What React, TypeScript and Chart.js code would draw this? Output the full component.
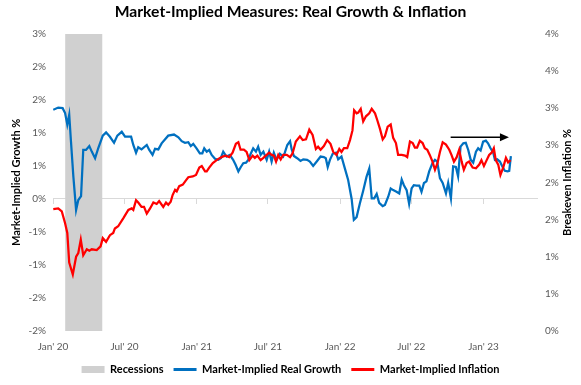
import React, { useEffect, useRef } from 'react';
import { Chart, registerables } from 'chart.js';
Chart.register(...registerables);

const TITLE = 'Market-Implied Measures: Real Growth & Inflation';
const FONT = 'Lato';

// x axis: weeks since 1 Jan 2020
const xTickWeeks = [0, 26, 52.29, 78.14, 104.43, 130.29, 156.57];
const xTickLabels = ["Jan' 20", "Jul' 20", "Jan' 21", "Jul' 21", "Jan' 22", "Jul' 22", "Jan' 23"];
const growthTicks = [-2.4, -1.8, -1.2, -0.6, 0, 0.6, 1.2, 1.8, 2.4, 3.0];
const inflationTicks = [0, 0.5, 1, 1.5, 2, 2.5, 3, 3.5, 4];

const recessionWeeks = [4.4, 18.0];
const arrowWeeks = [144.6, 165.8];
const arrowLevel = 1.12;

const growthWeeks = [
  0.1, 1.9, 3.5, 4.4, 5.2, 5.9, 6.5, 7.4, 8.4, 9.2,
  10.2, 11.0, 12.0, 13.2, 14.1, 15.3, 16.5, 18.1, 19.3, 20.7,
  22.2, 23.4, 25.0, 26.2, 28.4, 29.2, 30.2, 31.0, 32.2, 34.1,
  35.0, 36.2, 37.1, 38.3, 39.5, 41.9, 44.0, 45.6, 46.8, 48.0,
  49.2, 50.1, 51.0, 52.2, 53.4, 54.3, 55.0, 55.9, 56.8, 57.7,
  58.9, 60.1, 61.0, 61.9, 63.1, 64.3, 65.5, 66.4, 67.4, 68.3,
  69.2, 70.2, 71.0, 71.9, 72.8, 73.8, 74.6, 75.5, 76.5, 77.7,
  78.6, 79.5, 80.3, 81.3, 82.5, 83.7, 84.3, 85.2, 86.2, 86.8,
  87.6, 88.8, 90.0, 91.0, 92.4, 93.4, 94.6, 95.9, 97.3, 98.5,
  99.2, 99.9, 100.7, 101.7, 102.9, 103.7, 104.9, 106.1, 107.3, 108.6,
  109.4, 110.4, 111.6, 112.8, 114.0, 115.0, 115.9, 116.8, 117.7, 118.6,
  119.9, 120.7, 121.9, 122.8, 123.7, 124.9, 125.9, 126.8, 127.6, 128.6,
  129.5, 130.4, 131.2, 132.2, 133.2, 134.0, 134.9, 135.8, 136.8, 138.0,
  138.9, 139.7, 140.7, 141.7, 142.9, 143.7, 144.7, 145.5, 146.5, 147.3,
  148.2, 149.2, 150.1, 151.0, 151.9, 152.8, 153.8, 154.6, 155.5, 156.4,
  157.4, 158.2, 159.1, 160.1, 160.7, 161.5, 162.5, 163.5, 164.3, 165.3,
  165.9, 166.5,
];
const growthValues = [
  1.62, 1.66, 1.65, 1.56, 1.35, 1.53, 1.07, 0.41, -0.2, -0.02,
  0.05, 0.89, 0.89, 0.96, 0.86, 0.74, 0.93, 1.15, 1.21, 1.13,
  1.02, 1.15, 1.22, 1.13, 1.13, 0.98, 0.84, 0.94, 0.9, 0.98,
  0.89, 0.8, 0.91, 0.9, 1.01, 1.15, 1.17, 1.12, 1.05, 1.02,
  1.03, 0.96, 1.0, 0.92, 0.83, 0.83, 0.92, 0.86, 0.89, 0.8,
  0.73, 0.71, 0.74, 0.86, 0.77, 0.8, 0.71, 0.62, 0.5, 0.58,
  0.65, 0.66, 0.71, 0.82, 0.92, 0.86, 0.95, 0.8, 0.86, 0.71,
  0.86, 0.68, 0.84, 0.71, 0.82, 0.77, 0.84, 0.98, 1.05, 0.9,
  0.78, 0.74, 0.69, 0.72, 0.71, 0.68, 0.6, 0.68, 0.77, 0.76,
  0.74, 0.58, 0.71, 0.82, 0.84, 0.72, 0.77, 0.56, 0.35, 0.0,
  -0.38, -0.33, -0.08, 0.15, 0.4, 0.55, 0.01, 0.01, 0.09, -0.07,
  -0.13, -0.11, 0.04, 0.19, 0.16, 0.13, 0.1, 0.35, 0.25, 0.16,
  -0.09, 0.19, 0.25, 0.24, 0.24, 0.13, 0.29, 0.32, 0.5, 0.65,
  0.71, 0.68, 0.38, 0.29, 0.1, 0.29, 0.01, 0.59, 0.58, 0.41,
  0.95, 1.01, 1.02, 0.89, 0.71, 0.66, 0.86, 0.92, 0.88, 1.04,
  1.06, 1.01, 0.92, 0.84, 0.71, 0.72, 0.68, 0.58, 0.51, 0.5,
  0.51, 0.78,
];

const inflationWeeks = [
  0.1, 1.9, 3.2, 4.4, 5.2, 5.9, 7.2, 8.4, 9.2, 10.1,
  11.0, 12.3, 13.2, 14.1, 15.9, 17.3, 18.1, 19.3, 20.7, 21.9,
  22.5, 23.7, 25.6, 27.4, 28.6, 29.2, 30.2, 31.0, 32.2, 33.1,
  34.1, 35.3, 36.5, 37.7, 38.6, 40.1, 41.1, 41.9, 42.8, 43.5,
  44.4, 45.0, 45.9, 47.2, 48.4, 49.2, 50.8, 52.0, 53.2, 54.1,
  55.3, 55.9, 56.8, 58.1, 59.5, 60.7, 61.9, 62.9, 64.1, 65.3,
  66.5, 67.4, 68.2, 69.4, 70.4, 71.4, 72.6, 73.4, 74.3, 75.5,
  76.5, 77.7, 78.6, 79.5, 80.3, 81.1, 81.9, 82.8, 83.7, 85.0,
  86.2, 87.1, 88.3, 89.8, 90.8, 92.0, 93.2, 94.4, 95.6, 96.4,
  97.3, 98.5, 99.7, 100.9, 101.9, 103.1, 104.1, 104.9, 105.8, 107.0,
  108.0, 108.9, 109.5, 110.4, 111.0, 111.9, 112.8, 113.8, 115.0, 115.9,
  117.1, 117.9, 118.9, 119.9, 120.7, 121.7, 122.8, 123.7, 124.7, 125.5,
  126.8, 128.0, 128.8, 129.8, 130.8, 131.6, 132.4, 133.4, 134.4, 135.2,
  136.1, 137.0, 138.0, 138.9, 139.8, 140.7, 141.7, 142.9, 144.1, 144.9,
  145.8, 146.8, 147.7, 148.6, 149.4, 150.4, 151.3, 152.6, 153.8, 155.0,
  155.8, 156.7, 157.7, 158.6, 159.5, 160.3, 161.0, 161.9, 162.7, 163.7,
  164.7, 165.5, 166.4,
];
const inflationValues = [
  1.64, 1.65, 1.61, 1.45, 1.32, 0.92, 0.76, 1.0, 1.05, 1.23,
  1.02, 1.1, 1.08, 1.1, 1.09, 1.14, 1.25, 1.2, 1.29, 1.32,
  1.38, 1.41, 1.52, 1.63, 1.65, 1.63, 1.76, 1.73, 1.67, 1.67,
  1.58, 1.65, 1.73, 1.71, 1.75, 1.67, 1.73, 1.7, 1.74, 1.83,
  1.9, 1.88, 1.95, 1.97, 2.03, 2.07, 2.08, 2.1, 2.2, 2.22,
  2.15, 2.15, 2.2, 2.26, 2.3, 2.33, 2.35, 2.36, 2.34, 2.4,
  2.52, 2.54, 2.44, 2.44, 2.41, 2.3, 2.36, 2.33, 2.36, 2.3,
  2.33, 2.37, 2.4, 2.37, 2.36, 2.28, 2.37, 2.31, 2.37, 2.37,
  2.34, 2.39, 2.55, 2.62, 2.57, 2.58, 2.71, 2.64, 2.45, 2.48,
  2.44, 2.49, 2.57, 2.52, 2.41, 2.37, 2.45, 2.41, 2.46, 2.46,
  2.57, 2.7, 2.97, 2.93, 2.94, 2.99, 2.82, 2.89, 2.93, 2.99,
  2.93, 2.84, 2.72, 2.58, 2.62, 2.75, 2.78, 2.6, 2.53, 2.37,
  2.37, 2.36, 2.34, 2.55, 2.53, 2.47, 2.47, 2.56, 2.53, 2.46,
  2.44, 2.37, 2.28, 2.17, 2.26, 2.41, 2.54, 2.51, 2.44, 2.37,
  2.28, 2.34, 2.44, 2.28, 2.17, 2.26, 2.28, 2.2, 2.19, 2.24,
  2.3, 2.22, 2.3, 2.37, 2.4, 2.46, 2.3, 2.24, 2.1, 2.2,
  2.33, 2.27, 2.3,
];

const GRAY_TEXT = '#595959';
const fmtPct = (v: number) => Math.round(v) + '%';

export default function App() {
  const ref = useRef<HTMLCanvasElement>(null);
  useEffect(() => {
    const canvas = ref.current;
    if (!canvas) return;

    const rightTitle = {
      id: 'rightTitle',
      afterDraw(chart: any) {
        const s = chart.scales.y2;
        const ca = chart.chartArea;
        const c = chart.ctx;
        c.save();
        c.translate(s.right - 14, (ca.top + ca.bottom) / 2);
        c.rotate(-Math.PI / 2);
        c.font = `bold 11px ${FONT}`;
        c.fillStyle = '#000';
        c.textAlign = 'center';
        c.textBaseline = 'middle';
        c.fillText('Breakeven Inflation %', 0, 0);
        c.restore();
      },
    };
    const arrow = {
      id: 'arrow',
      afterDatasetsDraw(chart: any) {
        const x1 = chart.scales.x.getPixelForValue(arrowWeeks[0]);
        const x2 = chart.scales.x.getPixelForValue(arrowWeeks[1]);
        const y = chart.scales.y.getPixelForValue(arrowLevel);
        const c = chart.ctx;
        c.save();
        c.strokeStyle = '#000';
        c.fillStyle = '#000';
        c.lineWidth = 1.5;
        c.beginPath();
        c.moveTo(x1, y);
        c.lineTo(x2 - 7, y);
        c.stroke();
        c.beginPath();
        c.moveTo(x2, y);
        c.lineTo(x2 - 9, y - 4);
        c.lineTo(x2 - 9, y + 4);
        c.closePath();
        c.fill();
        c.restore();
      },
    };

    const setXTicks = (s: any) => { s.ticks = xTickWeeks.map((v) => ({ value: v })); };

    const chart = new Chart(canvas, {
      type: 'line',
      data: {
        datasets: [
          {
            label: 'Recessions',
            data: recessionWeeks.map((w) => ({ x: w, y: 1 })),
            yAxisID: 'yr',
            backgroundColor: '#d0d0d0',
            borderColor: 'rgba(0,0,0,0)',
            borderWidth: 0,
            pointRadius: 0,
            fill: 'start',
            order: 3,
          },
          {
            label: 'Market-Implied Real Growth',
            data: growthWeeks.map((w, i) => ({ x: w, y: growthValues[i] })),
            yAxisID: 'y',
            borderColor: '#0070c0',
            backgroundColor: '#0070c0',
            borderWidth: 2.25,
            pointRadius: 0,
            fill: false,
            order: 2,
          },
          {
            label: 'Market-Implied Inflation',
            data: inflationWeeks.map((w, i) => ({ x: w, y: inflationValues[i] })),
            yAxisID: 'y2',
            borderColor: '#ff0000',
            backgroundColor: '#ff0000',
            borderWidth: 2.25,
            pointRadius: 0,
            fill: false,
            order: 1,
          },
        ],
      } as any,
      options: {
        responsive: false,
        animation: false,
        devicePixelRatio: 1,
        layout: { padding: 0 },
        plugins: {
          tooltip: { enabled: false },
          title: {
            display: true,
            text: TITLE,
            color: '#000',
            font: { family: FONT, size: 15.7, weight: 'bold' },
            padding: { top: 3, bottom: 12 },
          },
          legend: {
            position: 'bottom',
            labels: {
              usePointStyle: true,
              pointStyleWidth: 23,
              boxHeight: 7,
              padding: 10,
              color: '#000',
              font: { family: FONT, size: 11, weight: 'bold' },
              generateLabels: (ch: any) =>
                ch.data.datasets.map((ds: any, i: number) => ({
                  text: ds.label,
                  datasetIndex: i,
                  fillStyle: i === 0 ? '#d0d0d0' : ds.borderColor,
                  strokeStyle: i === 0 ? '#d0d0d0' : ds.borderColor,
                  lineWidth: i === 0 ? 0 : 3,
                  pointStyle: i === 0 ? 'rect' : 'line',
                  hidden: false,
                  fontColor: '#000',
                })),
            },
          },
        },
        scales: {
          x: {
            type: 'linear',
            position: 'bottom',
            min: 0,
            max: 176,
            afterBuildTicks: setXTicks,
            afterFit: (s: any) => { s.height = 23; },
            ticks: {
              autoSkip: false,
              maxRotation: 0,
              padding: 10,
              color: GRAY_TEXT,
              font: { family: FONT, size: 10 },
              callback: (_v: any, i: number) => xTickLabels[i],
            },
            grid: { display: false, drawTicks: false },
            border: { display: false },
          },
          x0: {
            type: 'linear',
            axis: 'x',
            position: { y: 0 },
            min: 0,
            max: 176,
            afterBuildTicks: setXTicks,
            ticks: { display: false },
            grid: { display: true, drawOnChartArea: false, drawTicks: true, tickLength: 5, color: '#d9d9d9' },
            border: { display: true, color: '#d9d9d9', width: 1 },
          },
          y: {
            position: 'left',
            min: -2.4,
            max: 3,
            afterBuildTicks: (s: any) => { s.ticks = growthTicks.map((v) => ({ value: v })); },
            afterFit: (s: any) => { s.width = 53; },
            ticks: {
              padding: 7,
              color: GRAY_TEXT,
              font: { family: FONT, size: 10 },
              callback: (v: any) => fmtPct(Number(v)),
            },
            grid: { display: false, drawTicks: false },
            border: { display: false },
            title: {
              display: true,
              text: 'Market-Implied Growth %',
              color: '#000',
              font: { family: FONT, size: 11, weight: 'bold' },
              padding: { top: 10, bottom: 0 },
            },
          },
          y2: {
            position: 'right',
            min: 0,
            max: 4,
            afterBuildTicks: (s: any) => { s.ticks = inflationTicks.map((v) => ({ value: v })); },
            afterFit: (s: any) => { s.width = 44; },
            ticks: {
              padding: 8,
              color: GRAY_TEXT,
              font: { family: FONT, size: 10 },
              callback: (v: any) => fmtPct(Number(v)),
            },
            grid: { display: false, drawTicks: false },
            border: { display: false },
          },
          yr: { display: false, min: 0, max: 1 },
        },
      } as any,
      plugins: [rightTitle, arrow],
    });
    return () => chart.destroy();
  }, []);

  return (
    <div style={{ position: 'fixed', left: 0, top: 0, width: 581, height: 385, background: '#fff' }}>
      <canvas ref={ref} width={581} height={385} style={{ width: 581, height: 385, display: 'block' }} />
    </div>
  );
}
